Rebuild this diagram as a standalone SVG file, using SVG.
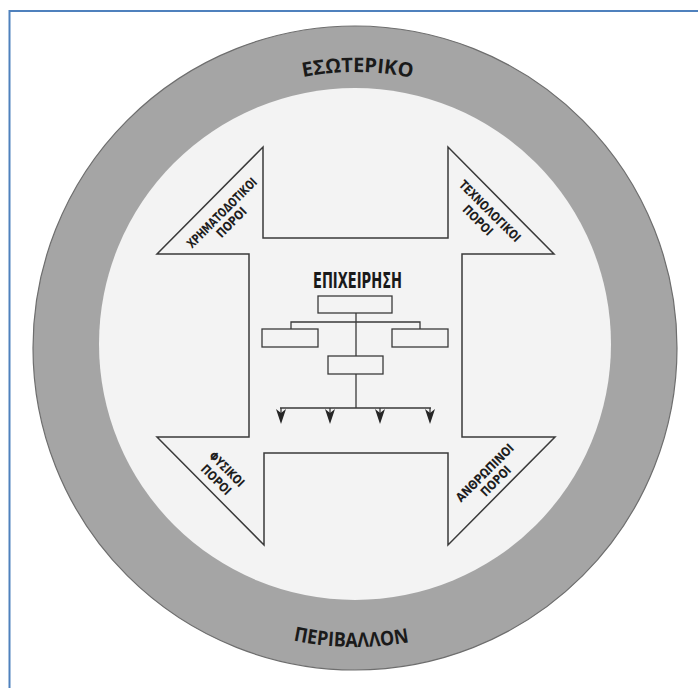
<svg xmlns="http://www.w3.org/2000/svg" width="698" height="688" viewBox="0 0 698 688">
<style>
.frame{fill:none;stroke:#4f81bd;stroke-width:2}
.ring{fill:#a5a5a5;stroke:#6e6e6e;stroke-width:1.2}
.inner{fill:#f3f3f3}
.shape{fill:none;stroke:#3a3a3a;stroke-width:1.5;stroke-linejoin:miter}
.box{fill:#f3f3f3;stroke:#3a3a3a;stroke-width:1.3}
.ln{fill:none;stroke:#3a3a3a;stroke-width:1.3}
.arr{fill:#262626}
.lbl{font-family:"DejaVu Sans",sans-serif;font-stretch:condensed;font-weight:bold;font-size:12.5px;fill:#1e1e1e;text-anchor:middle}
.title{font-family:"DejaVu Sans",sans-serif;font-stretch:condensed;font-weight:bold;font-size:21px;fill:#1a1a1a;text-anchor:middle}
.ringtxt{font-family:"Open Sans",sans-serif;font-weight:bold;font-size:20px;fill:#1a1a1a}
</style>
<defs>
<path id="topArc" d="M79,348 A276,276 0 0 1 631,348"/>
<path id="botArc" d="M56,348 A299,299 0 0 0 654,348"/>
</defs>
<rect x="0" y="0" width="698" height="688" fill="#ffffff"/>
<path class="frame" d="M9.5,688 V11 H698"/>
<g id="environment">
<circle class="ring" cx="355" cy="348" r="322"/>
<circle class="inner" cx="355" cy="344" r="256"/>
<text class="ringtxt"><textPath href="#topArc" startOffset="50.3%" text-anchor="middle" textLength="110" lengthAdjust="spacingAndGlyphs">ΕΣΩΤΕΡΙΚΟ</textPath></text>
<text class="ringtxt"><textPath href="#botArc" startOffset="49.6%" text-anchor="middle" textLength="117" lengthAdjust="spacingAndGlyphs">ΠΕΡΙΒΑΛΛΟΝ</textPath></text>
</g>
<g id="resources">
<polygon class="shape" points="263,147 263,238 448,238 448,147 554,254 462,254 462,437 555,437 448,545 448,453 264,453 264,545 157,437 249,437 249,254 157,254"/>
<g id="financial" transform="translate(226,217) rotate(-45)">
<text class="lbl" x="0" y="-1.5" textLength="93" lengthAdjust="spacingAndGlyphs">ΧΡΗΜΑΤΟΔΟΤΙΚΟΙ</text>
<text class="lbl" x="0" y="12" textLength="37" lengthAdjust="spacingAndGlyphs">ΠΟΡΟΙ</text>
</g>
<g id="technological" transform="translate(485,216) rotate(45)">
<text class="lbl" x="0" y="-2.5" textLength="81" lengthAdjust="spacingAndGlyphs">ΤΕΧΝΟΛΟΓΙΚΟΙ</text>
<text class="lbl" x="-2" y="12.5" textLength="37" lengthAdjust="spacingAndGlyphs">ΠΟΡΟΙ</text>
</g>
<g id="natural" transform="translate(222,474) rotate(45)">
<text class="lbl" x="0" y="-2.5" textLength="44" lengthAdjust="spacingAndGlyphs">ΦΥΣΙΚΟΙ</text>
<text class="lbl" x="0" y="12.5" textLength="37" lengthAdjust="spacingAndGlyphs">ΠΟΡΟΙ</text>
</g>
<g id="human" transform="translate(489,477) rotate(-45)">
<text class="lbl" x="0" y="-1.5" textLength="76" lengthAdjust="spacingAndGlyphs">ΑΝΘΡΩΠΙΝΟΙ</text>
<text class="lbl" x="2" y="12" textLength="37" lengthAdjust="spacingAndGlyphs">ΠΟΡΟΙ</text>
</g>
</g>
<g id="connectors">
<path class="ln" d="M356,313 V408 M291,330 V322 H420 V330 M280,408 H431"/>
<path class="ln" d="M281,408 V413 M330,408 V413 M380,408 V413 M430,408 V413"/>
<path class="arr" d="M276,409 L281,424 L286,409 L281,413 Z M325,409 L330,424 L335,409 L330,413 Z M375,409 L380,424 L385,409 L380,413 Z M425,409 L430,424 L435,409 L430,413 Z"/>
</g>
<g id="business">
<text class="title" x="357.5" y="288" textLength="89" lengthAdjust="spacingAndGlyphs">ΕΠΙΧΕΙΡΗΣΗ</text>
<rect id="box-top" class="box" x="318" y="296" width="74" height="17"/>
<rect id="box-left" class="box" x="262" y="329" width="56" height="18"/>
<rect id="box-right" class="box" x="392" y="329" width="56" height="18"/>
<rect id="box-mid" class="box" x="328" y="356" width="55" height="18"/>
</g>
</svg>
